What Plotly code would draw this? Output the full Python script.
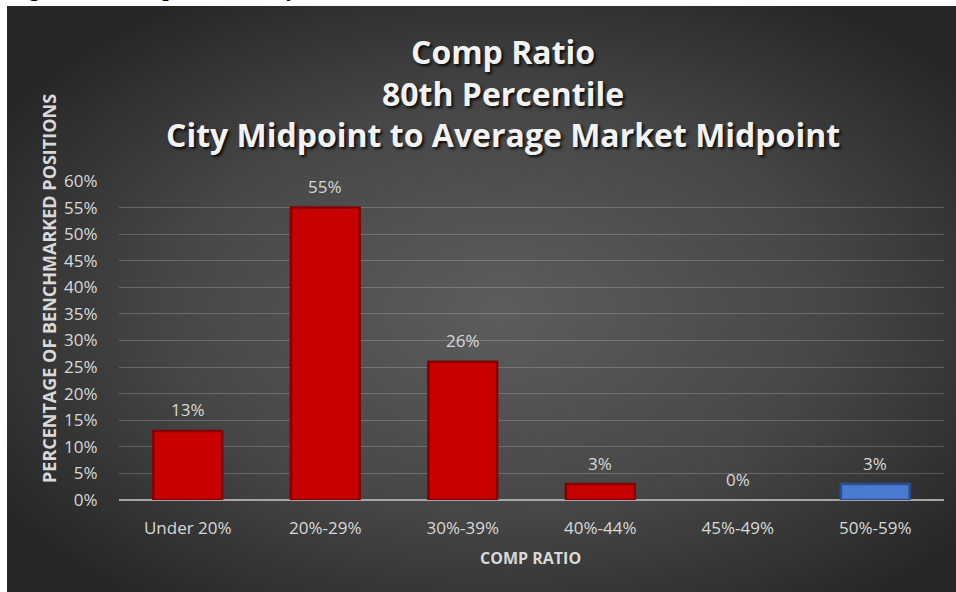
import base64
import plotly.graph_objects as go

# Comp ratio distribution (share of benchmarked positions, %)
categories = ["Under 20%", "20%-29%", "30%-39%", "40%-44%", "45%-49%", "50%-59%"]
values = [13, 55, 26, 3, 0, 3]
y_ticks = list(range(0, 61, 5))

title_lines = ["Comp Ratio", "80th Percentile", "City Midpoint to Average Market Midpoint"]
caption = "Figure 12: Comp Ratio Analysis"

W, H = 956, 592
L, R, T, B = 119, 12, 181, 92
PW, PH = W - L - R, H - T - B


def px_x(px):
    return (px - L) / PW


def px_y(py):
    return (H - B - py) / PH


RED, RED_EDGE = "#c80000", "#850000"
BLUE, BLUE_EDGE = "#4a7bd0", "#2a4f90"
bar_fill = [BLUE if c == "50%-59%" else RED for c in categories]
bar_edge = [BLUE_EDGE if c == "50%-59%" else RED_EDGE for c in categories]
edge_width = [2.5 if v > 0 else 0 for v in values]

# radial backdrop for the chart area
svg = (
    '<svg xmlns="http://www.w3.org/2000/svg" width="949" height="586">'
    '<defs><radialGradient id="g" cx="0.52" cy="0.52" r="0.62">'
    '<stop offset="0" stop-color="#5d5d5d"/>'
    '<stop offset="0.55" stop-color="#474747"/>'
    '<stop offset="1" stop-color="#272727"/>'
    '</radialGradient></defs>'
    '<rect width="949" height="586" fill="url(#g)"/></svg>'
)
bg_uri = "data:image/svg+xml;base64," + base64.b64encode(svg.encode()).decode()

fig = go.Figure()
fig.add_trace(go.Bar(
    x=categories, y=values, width=0.5,
    marker=dict(color=bar_fill, line=dict(color=bar_edge, width=edge_width)),
    hoverinfo="skip",
))

label_font = dict(family="Open Sans", size=17, color="#d9d9d9")
annotations = []
for c, v in zip(categories, values):
    annotations.append(dict(
        x=c, y=v, xref="x", yref="y", text=f"{v}%", showarrow=False,
        yanchor="middle", yshift=21, font=label_font,
    ))

# three-line chart title, centred on its middle line
annotations.append(dict(
    x=px_x(503), y=px_y(93), xref="paper", yref="paper",
    text="<br>".join(f"<b>{t}</b>" for t in title_lines),
    showarrow=False, xanchor="center", yanchor="middle", align="center",
    font=dict(family="Open Sans", size=32, color="#f2f2f2",
              shadow="2px 2px 3px rgba(0,0,0,0.85)"),
))

annotations.append(dict(
    x=px_x(49), y=px_y(289), xref="paper", yref="paper",
    text="<b>PERCENTAGE OF BENCHMARKED POSITIONS</b>", textangle=-90,
    showarrow=False, xanchor="center", yanchor="middle",
    font=dict(family="Open Sans", size=18, color="#d9d9d9"),
))
annotations.append(dict(
    x=px_x(530), y=px_y(558), xref="paper", yref="paper",
    text="<b>COMP RATIO</b>", showarrow=False, xanchor="center", yanchor="middle",
    font=dict(family="Open Sans", size=16, color="#d9d9d9"),
))
annotations.append(dict(
    x=px_x(6), y=px_y(3), xref="paper", yref="paper",
    text=f"<b>{caption}</b>", showarrow=False, xanchor="left", yanchor="bottom",
    font=dict(family="Liberation Serif", size=23, color="#000000"),
))

fig.update_layout(
    width=W, height=H,
    margin=dict(l=L, r=R, t=T, b=B, pad=0),
    paper_bgcolor="#ffffff",
    plot_bgcolor="rgba(0,0,0,0)",
    showlegend=False,
    bargap=0.5,
    annotations=annotations,
    images=[dict(
        source=bg_uri, xref="paper", yref="paper",
        x=px_x(7), y=px_y(6), sizex=(W - 7) / PW, sizey=(H - 6) / PH,
        xanchor="left", yanchor="top", sizing="stretch", layer="below",
    )],
    xaxis=dict(
        showgrid=False, showline=False, zeroline=False,
        ticks="outside", ticklen=13, tickcolor="rgba(0,0,0,0)",
        tickfont=label_font, fixedrange=True,
    ),
    yaxis=dict(
        range=[0, 60], tickvals=y_ticks, ticktext=[f"{t}%" for t in y_ticks],
        showgrid=True, gridcolor="rgba(200,200,200,0.28)", gridwidth=1,
        zeroline=True, zerolinecolor="#a6a6a6", zerolinewidth=2,
        showline=False, ticks="outside", ticklen=17, tickcolor="rgba(0,0,0,0)",
        tickfont=label_font, fixedrange=True,
    ),
)

fig.write_html("out.html", config={"displayModeBar": False})
